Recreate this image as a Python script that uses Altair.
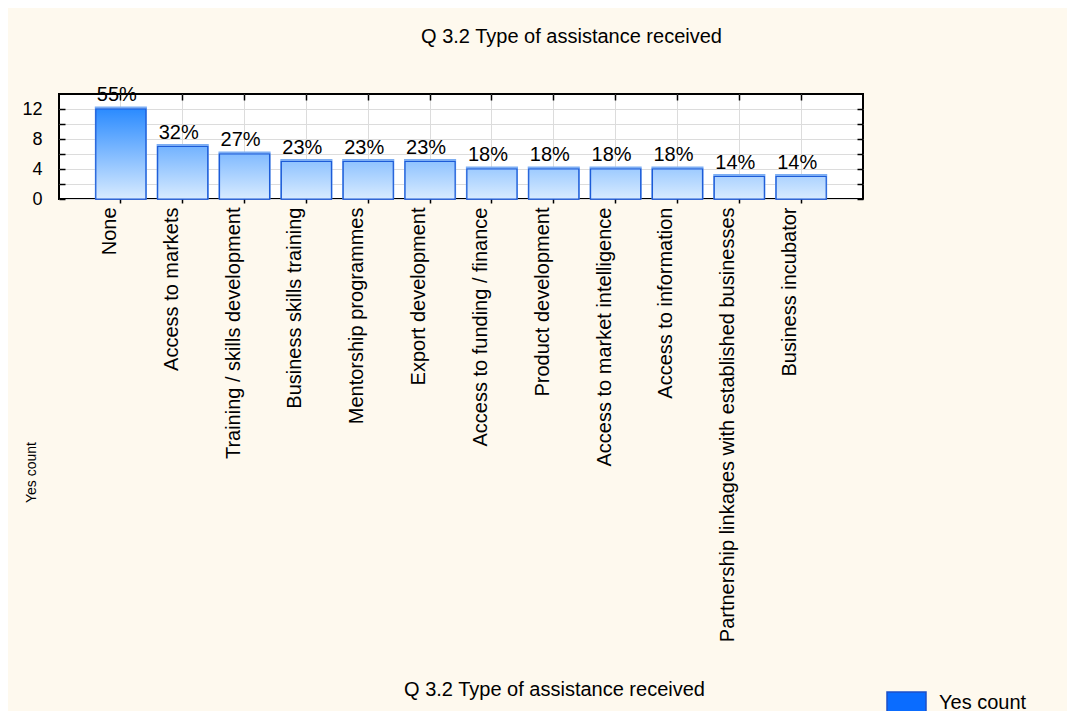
import altair as alt

categories = [
    "None",
    "Access to markets",
    "Training / skills development",
    "Business skills training",
    "Mentorship programmes",
    "Export development",
    "Access to funding / finance",
    "Product development",
    "Access to market intelligence",
    "Access to information",
    "Partnership linkages with established businesses",
    "Business incubator",
]
counts = [12, 7, 6, 5, 5, 5, 4, 4, 4, 4, 3, 3]
pct_labels = ["55%", "32%", "27%", "23%", "23%", "23%", "18%", "18%", "18%", "18%", "14%", "14%"]
series_name = "Yes count"
y_ticks = [0, 2, 4, 6, 8, 10, 12]

FONT = "Liberation Sans"
TOP_RGB = (0x2B, 0x8B, 0xFF)
BOT_RGB = (0xD8, 0xEB, 0xFF)
YMAX = 12.0


def shade(v):
    t = max(0.0, min(1.0, v / YMAX))
    r, g, b = (round(BOT_RGB[i] + (TOP_RGB[i] - BOT_RGB[i]) * t) for i in range(3))
    return f"#{r:02x}{g:02x}{b:02x}"


records = []
for c, v, p in zip(categories, counts, pct_labels):
    records.append({
        "category": c,
        "count": v,
        "pct": p,
        "series": series_name,
        "grad": {
            "gradient": "linear", "x1": 0, "y1": 0, "x2": 0, "y2": 1,
            "stops": [{"offset": 0, "color": shade(v)},
                      {"offset": 1, "color": shade(0)}],
        },
    })

data = alt.Data(values=records)

xscale = alt.Scale(domain=categories, paddingInner=0.19, paddingOuter=0.595)
yscale = alt.Scale(domain=[0, 14], nice=False, zero=True)

tick_axis_common = dict(labels=False, domain=False, grid=False, ticks=True,
                        tickColor="black", tickWidth=1.5, title=None)

# Legend bars (hidden under gradient bars) + inward ticks on left/bottom
legend_bars = alt.Chart(data).mark_bar(stroke="#1C4FC8", strokeWidth=1.5).encode(
    x=alt.X("category:N", scale=xscale, sort=categories,
            axis=alt.Axis(orient="bottom", offset=-4, tickSize=4, **tick_axis_common)),
    y=alt.Y("count:Q", scale=yscale,
            axis=alt.Axis(orient="left", offset=-6, tickSize=6, values=y_ticks, **tick_axis_common)),
    fill=alt.Fill("series:N", scale=alt.Scale(range=["#0A6CFF"]),
                  legend=alt.Legend(
                      title=None, orient="none", legendX=827, legendY=588,
                      symbolType="M-1,-0.54L1,-0.54L1,0.54L-1,0.54Z",
                      symbolSize=1521, symbolStrokeWidth=1.5,
                      labelFont=FONT, labelFontSize=20, labelColor="black",
                      labelOffset=12, padding=0)),
)

# light 3D edge + inward ticks on top/right + chart title
shadow = alt.Chart(data).mark_bar(fill="#7DAEF3", stroke="#7DAEF3", strokeWidth=2, yOffset=-1.5).encode(
    x=alt.X("category:N", scale=xscale, sort=categories,
            axis=alt.Axis(orient="top", offset=-6, tickSize=6,
                          labels=False, domain=False, grid=False, ticks=True,
                          tickColor="black", tickWidth=1.5,
                          title="Q 3.2 Type of assistance received",
                          titleX=512, titleY=-58, titleAlign="center",
                          titleBaseline="alphabetic", titleAngle=0,
                          titleFont=FONT, titleFontSize=20,
                          titleFontWeight="normal", titleColor="black")),
    y=alt.Y("count:Q", scale=yscale,
            axis=alt.Axis(orient="right", offset=-6, tickSize=6, values=y_ticks, **tick_axis_common)),
)

bars = alt.Chart(data).mark_bar(stroke="#1C5BD8", strokeWidth=1.2).encode(
    x=alt.X("category:N", scale=xscale, sort=categories,
            axis=alt.Axis(orient="bottom", labelAngle=-90, labelFont=FONT,
                          labelFontSize=20, labelColor="black",
                          labelAlign="right", labelBaseline="alphabetic",
                          labelOffset=-5, labelPadding=4, labelLimit=0,
                          tickSize=4, tickColor="black", tickWidth=1.5,
                          domain=False, grid=True, gridColor="#DCDCDC", gridWidth=1,
                          title="Q 3.2 Type of assistance received",
                          titleX=495, titleY=496, titleAlign="center",
                          titleBaseline="alphabetic", titleFont=FONT,
                          titleFontSize=20, titleFontWeight="normal",
                          titleColor="black")),
    y=alt.Y("count:Q", scale=yscale,
            axis=alt.Axis(orient="left", values=y_ticks,
                          labelExpr="datum.value % 4 == 0 ? datum.label : ''",
                          labelFont=FONT, labelFontSize=18, labelColor="black",
                          labelPadding=17, ticks=False, tickSize=0, domain=False,
                          grid=True, gridColor="#DCDCDC", gridWidth=1,
                          title="Yes count", titleX=-24, titleY=378,
                          titleAlign="center", titleBaseline="alphabetic",
                          titleAngle=-90, titleFont=FONT, titleFontSize=14,
                          titleFontWeight="normal", titleColor="black")),
    fill=alt.Fill("grad:N", scale=None, legend=None),
)

labels = alt.Chart(data).mark_text(font=FONT, fontSize=20, color="black",
                                   baseline="alphabetic", dy=-8, dx=-4).encode(
    x=alt.X("category:N", scale=xscale, sort=categories, axis=None),
    y=alt.Y("count:Q", scale=yscale, axis=None),
    text="pct:N",
)

chart = alt.layer(legend_bars, shadow, bars, labels).resolve_axis(
    x="independent", y="independent"
).properties(
    width=804,
    height=105,
    background="#FEF9EE",
    autosize=alt.AutoSizeParams(type="none"),
    padding={"left": 51, "top": 86, "right": 204, "bottom": 512},
).configure_view(
    fill="white", stroke="black", strokeWidth=2
)

chart.save("out.html", embed_options={"renderer": "svg", "actions": False})
